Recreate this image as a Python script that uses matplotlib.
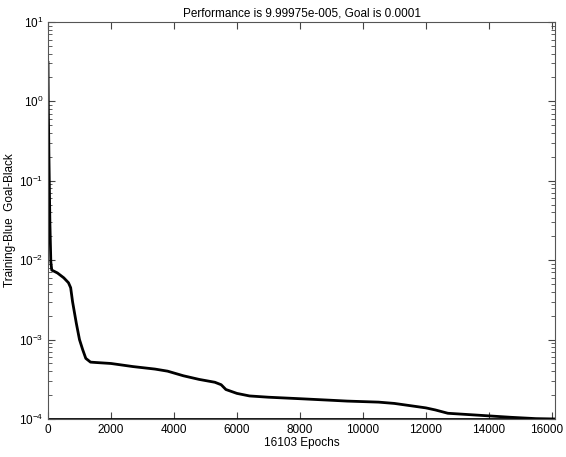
import matplotlib.pyplot as plt
import matplotlib.ticker as mticker
import matplotlib.transforms as mtransforms

plt.rcParams['font.family'] = ['Liberation Sans', 'DejaVu Sans']

# training performance (epoch, mse)
epochs = [0, 10, 30, 60, 90, 120, 300, 500, 650, 720, 780, 900, 1000, 1100,
          1200, 1350, 1500, 2000, 2700, 3400, 3800, 4300, 4800, 5300, 5500,
          5650, 6000, 6400, 7000, 8000, 9000, 9500, 10500, 11000, 12000,
          12300, 12700, 13600, 14700, 15500, 16103]
perf = [3.1, 0.9, 0.2, 0.03, 0.0095, 0.0075, 0.0069, 0.006, 0.0052, 0.0045,
        0.003, 0.0016, 0.001, 0.00075, 0.00058, 0.00052, 0.000515, 0.0005,
        0.000457, 0.000425, 0.0004, 0.00035, 0.000315, 0.00029, 0.00027,
        0.000235, 0.00021, 0.000195, 0.000188, 0.00018, 0.000172, 0.000168,
        0.000163, 0.000157, 0.000138, 0.00013, 0.000118, 0.000112, 0.000105,
        0.000101, 9.99975e-5]
goal = 1e-4
total_epochs = 16103

fig = plt.figure(figsize=(5.66, 4.57), dpi=100)
ax = fig.add_axes([0.0848, 0.0832, 0.8958, 0.8687])

ax.semilogy(epochs, perf, color='black', linewidth=2.0)
ax.plot([0, total_epochs], [goal, goal], color='black', linewidth=2.0)

ax.set_xlim(0, total_epochs)
ax.set_ylim(1e-4, 1e1)
ax.set_xticks(range(0, 16001, 2000))
ax.yaxis.set_major_locator(mticker.LogLocator(base=10, numticks=10))
ax.yaxis.set_minor_locator(mticker.LogLocator(base=10, subs=range(2, 10), numticks=10))
ax.yaxis.set_minor_formatter(mticker.NullFormatter())

ax.tick_params(which='both', direction='in', top=True, right=True,
               labelsize=8.5, color='#444444')
ax.tick_params(which='major', length=5)
ax.tick_params(which='minor', length=3)
for s in ax.spines.values():
    s.set_color('#555555')
    s.set_linewidth(0.8)

# nudge the last x label so it stays inside the figure
last = ax.get_xticklabels()[-1]
last.set_transform(last.get_transform() +
                   mtransforms.ScaledTranslation(-4 / 72, 0, fig.dpi_scale_trans))

ax.set_title('Performance is 9.99975e-005, Goal is 0.0001', fontsize=8.5, pad=4)
ax.set_xlabel('16103 Epochs', fontsize=8.5, labelpad=1)
ax.set_ylabel('Training-Blue  Goal-Black', fontsize=8.5, labelpad=2)

fig.savefig('out.png', dpi=100)
